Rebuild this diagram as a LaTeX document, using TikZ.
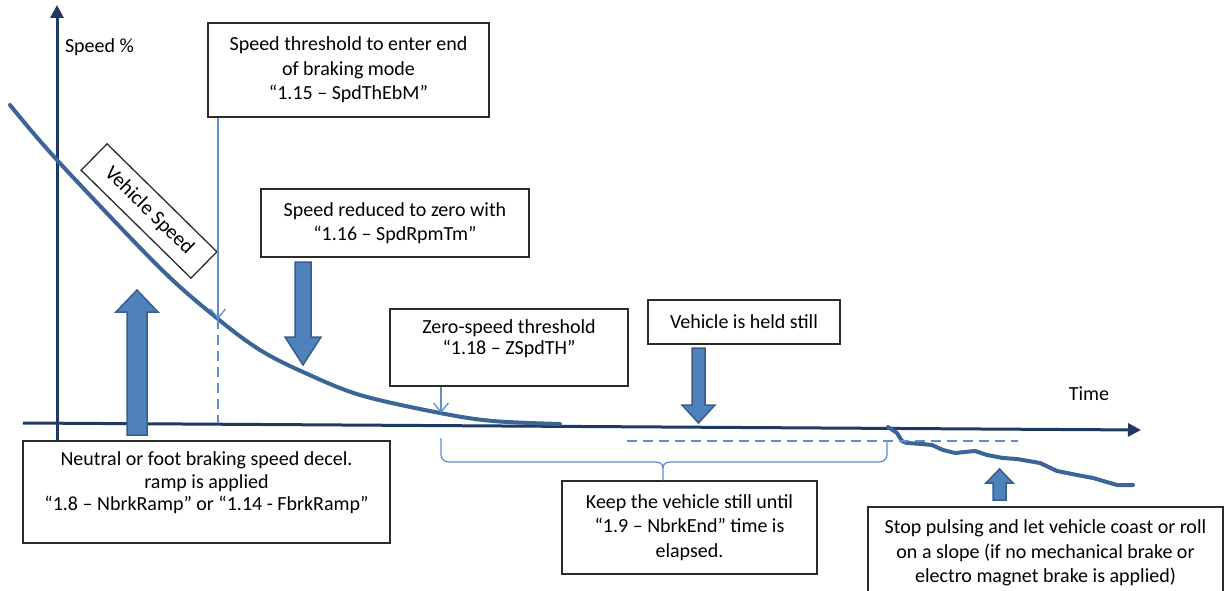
\documentclass[tikz,border=0pt]{standalone}
\usepackage{fontspec}
\setmainfont{Carlito}
\usetikzlibrary{arrows.meta,calc}

\definecolor{axisnavy}{HTML}{1F3864}
\definecolor{curveblue}{HTML}{3B6598}
\definecolor{thinblue}{HTML}{5F8FCF}
\definecolor{fatfill}{HTML}{4F81BD}
\definecolor{fatline}{HTML}{385D8A}
\definecolor{boxline}{HTML}{2B2B2B}

% vertical block arrow: from, to, shaft half width, head half width, head length (pt)
\newcommand\fatarrow[5]{%
  \draw[fatstyle] let \p1=(#1), \p2=(#2),
      \n1={ifthenelse(\y2<\y1,1,-1)*#5} in
    (\x1-#3pt,\y1) -- (\x1-#3pt,\y2+\n1) -- (\x1-#4pt,\y2+\n1) -- (\x2,\y2)
    -- (\x1+#4pt,\y2+\n1) -- (\x1+#3pt,\y2+\n1) -- (\x1+#3pt,\y1) -- cycle;}

% centred lines set a little above the middle of their box:
% #1 raise, #2 line spacing, #3 lines
\newcommand\liftedlines[3]{%
  \raisebox{#1}[0pt][0pt]{\fontsize{20}{#2}\selectfont
    \begin{tabular}{@{}c@{}}#3\end{tabular}}}

\begin{document}
\begin{tikzpicture}[x=1pt,y=-1pt,
  txt/.style={font=\fontsize{20}{24.5}\selectfont, inner sep=0pt},
  infobox/.style={draw=boxline, line width=1.3pt, fill=white, align=center,
    inner sep=0pt, font=\fontsize{20}{24.5}\selectfont},
  axisline/.style={draw=axisnavy, line width=3pt,
    -{Triangle[length=13pt,width=13pt]}},
  speedcurve/.style={draw=curveblue, line width=4pt, line join=round, line cap=round},
  pointer/.style={draw=thinblue, line width=1.3pt,
    -{Straight Barb[length=9pt,width=15pt,line width=1.3pt]}},
  guide/.style={draw=thinblue, line width=1.3pt, dash pattern=on 10pt off 6pt},
  bracket/.style={draw=thinblue, line width=1.3pt, line join=round},
  fatstyle/.style={fill=fatfill, draw=fatline, line width=1.5pt, line join=miter}]

\useasboundingbox (0,0) rectangle (1224,591);

% points on the speed curve
\coordinate (p1) at (218,319);
\coordinate (p2) at (441,413);

% axes
\coordinate (ybot) at (57,441);
\coordinate (ytop) at (57,5);
\coordinate (xleft) at (23,423);
\coordinate (xright) at (1141,430);
\draw[axisline] (ybot) -- (ytop);
\draw[axisline] (xleft) -- (xright);
\node[txt] (ylab) at (99.5,47) {Speed \%};
\node[txt] (xlab) at (1089,394) {Time};

% vehicle speed profile
\draw[speedcurve] plot[smooth, tension=0.55] coordinates {(10,105) (57,160) (160,268)
  (218,319) (260,350) (303,372) (360,395) (440,413) (493,421) (560,424)};
\draw[speedcurve] (888,427) -- (897,433) -- (902,441) -- (907,443) -- (922,444)
  -- (932,445) -- (943,450) -- (955,453) -- (975,451) -- (987,455) -- (1003,458)
  -- (1017,459) -- (1040,463) -- (1057,471) -- (1077,475) -- (1093,478)
  -- (1117,485) -- (1133,485);

% hold window guide and threshold drop line
\coordinate (g1) at (627,441);
\coordinate (g2) at (1018,441);
\draw[guide] (g1) -- (g2);
\draw[guide] (p1) -- (p1 |- xleft);

% boxes
\node[infobox, minimum width=281pt, minimum height=94pt] (ebm) at (348.5,70)
  {Speed threshold to enter end\\of braking mode\\“1.15 – SpdThEbM”};
\node[infobox, minimum width=268pt, minimum height=68pt,
  font=\fontsize{20}{23.5}\selectfont] (rpm) at (395,223)
  {Speed reduced to zero with\\“1.16 – SpdRpmTm”};
\node[infobox, minimum width=238pt, minimum height=77pt] (zspd) at (509,347.5)
  {\liftedlines{3pt}{21pt}{Zero-speed threshold\\“1.18 – ZSpdTH”}};
\node[infobox, minimum width=192pt, minimum height=44pt] (held) at (744,322)
  {Vehicle is held still};
\node[infobox, minimum width=367pt, minimum height=102pt] (ramp) at (206.5,492)
  {\liftedlines{3pt}{22.5pt}{Neutral or foot braking speed decel.\\ramp is applied\\“1.8 – NbrkRamp” or “1.14 - FbrkRamp”}};
\node[infobox, minimum width=255pt, minimum height=93pt] (keep) at (689.5,527.5)
  {Keep the vehicle still until\\“1.9 – NbrkEnd” time is\\elapsed.};
\node[infobox, minimum width=355pt, minimum height=92pt] (coast) at (1045.5,553)
  {Stop pulsing and let vehicle coast or roll\\on a slope (if no mechanical brake or\\electro magnet brake is applied)};
\node[infobox, minimum width=154pt, minimum height=37pt, rotate=-44.5,
  font=\fontsize{20.5}{24}\selectfont] (vs) at (149,211) {Vehicle Speed};

% bracket under the hold window, pointing to its box
\coordinate (b1) at (441,438);
\coordinate (b2) at (887,442);
\coordinate (bm) at (663,468);
\draw[bracket] (b1) -- (441,455) to[out=-90,in=180] (449,462) -- (655,462)
  .. controls (660,462) and (663,464) .. (bm) -- (bm |- keep.north);
\draw[bracket] (b2) -- (887,455) to[out=-90,in=0] (879,462) -- (671,462)
  .. controls (666,462) and (663,464) .. (bm);

% thin pointers
\draw[pointer] (p1 |- ebm.south) -- (p1);
\draw[pointer] (p2 |- zspd.south) -- (p2);

% block arrows
\coordinate (a1t) at (303,262);  \coordinate (a1h) at (303,365);
\coordinate (a2t) at (698.5,348); \coordinate (a2h) at (698.5,423);
\coordinate (a3t) at (137,435);  \coordinate (a3h) at (137,290);
\coordinate (a4t) at (999.5,500); \coordinate (a4h) at (999.5,469);
\fatarrow{a1t}{a1h}{8}{18}{28}
\fatarrow{a2t}{a2h}{6.5}{16.5}{18}
\fatarrow{a3t}{a3h}{10}{21}{22}
\fatarrow{a4t}{a4h}{6.5}{13.5}{14}

\end{tikzpicture}
\end{document}
